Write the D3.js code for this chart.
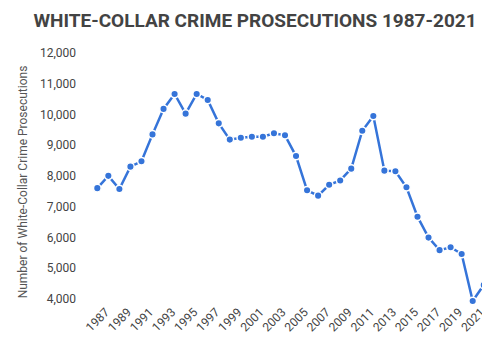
<!DOCTYPE html>
<html>
<head>
<meta charset="utf-8">
<script src="https://cdn.jsdelivr.net/npm/d3@7"></script>
<style>
  body { margin: 0; background: #fff; }
  svg { display: block; font-family: Roboto, "Noto Sans", sans-serif; }
</style>
</head>
<body>
<div id="chart"></div>
<script>
// data (the 2022 point is cut off at the right edge)
var years = [1987, 1988, 1989, 1990, 1991, 1992, 1993, 1994, 1995, 1996, 1997, 1998, 1999, 2000,
             2001, 2002, 2003, 2004, 2005, 2006, 2007, 2008, 2009, 2010, 2011, 2012, 2013, 2014,
             2015, 2016, 2017, 2018, 2019, 2020, 2021, 2022];
var prosecutions = [7600, 8000, 7570, 8300, 8475, 9350, 10180, 10665, 10025, 10665, 10470, 9710, 9180, 9240,
                    9275, 9275, 9385, 9320, 8645, 7530, 7355, 7710, 7850, 8235, 9470, 9950, 8170, 8150,
                    7630, 6670, 5990, 5580, 5675, 5455, 3925, 4445];
var yTicks = [4000, 5000, 6000, 7000, 8000, 9000, 10000, 11000, 12000];
var xTicks = [1987, 1989, 1991, 1993, 1995, 1997, 1999, 2001, 2003, 2005, 2007, 2009, 2011, 2013,
              2015, 2017, 2019, 2021];

var w = 482;
var h = 343;

var dataset = years.map(function(y, i) { return { year: y, value: prosecutions[i] }; });

//scales
var xScale = d3.scaleLinear()
  .domain([1987, 2021])
  .range([97.3, 472.7]);

var yScale = d3.scaleLinear()
  .domain([4000, 12000])
  .range([298.7, 53]);

var svg = d3.select("#chart")
  .append("svg")
  .attr("width", w)
  .attr("height", h);

//title
svg.append("text")
  .attr("x", 255)
  .attr("y", 27)
  .attr("text-anchor", "middle")
  .attr("font-size", "19px")
  .attr("font-weight", "bold")
  .attr("fill", "#434343")
  .text("WHITE-COLLAR CRIME PROSECUTIONS 1987-2021");

//y axis
var yAxis = d3.axisLeft(yScale)
  .tickValues(yTicks)
  .tickSize(0)
  .tickPadding(0)
  .tickFormat(d3.format(","));

var gy = svg.append("g")
  .attr("transform", "translate(76,0)")
  .call(yAxis);
gy.select(".domain").remove();
gy.selectAll("text")
  .attr("font-family", "Roboto, sans-serif")
  .attr("font-size", "12px")
  .attr("fill", "#444");

//x axis
var xAxis = d3.axisBottom(xScale)
  .tickValues(xTicks)
  .tickSize(0)
  .tickFormat(d3.format("d"));

var gx = svg.append("g")
  .attr("transform", "translate(0,308)")
  .call(xAxis);
gx.select(".domain").remove();
gx.selectAll("text")
  .attr("font-family", "Roboto, sans-serif")
  .attr("font-size", "12px")
  .attr("fill", "#444")
  .attr("x", 5)
  .attr("y", 8)
  .attr("dy", "0.35em")
  .attr("transform", "rotate(-45)")
  .style("text-anchor", "end");

// y axis title
svg.append("text")
  .attr("transform", "translate(27,182) rotate(-90)")
  .attr("text-anchor", "middle")
  .attr("font-size", "12px")
  .attr("fill", "#555")
  .text("Number of White-Collar Crime Prosecutions");

//line
var line = d3.line()
  .x(function(d) { return xScale(d.year); })
  .y(function(d) { return yScale(d.value); });

svg.append("path")
  .datum(dataset)
  .attr("fill", "none")
  .attr("stroke", "#3574d9")
  .attr("stroke-width", 2.5)
  .attr("d", line);

//dots
svg.selectAll(".dot")
  .data(dataset)
  .enter()
  .append("circle")
  .attr("class", "dot")
  .attr("cx", function(d) { return xScale(d.year); })
  .attr("cy", function(d) { return yScale(d.value); })
  .attr("r", 3.8)
  .attr("fill", "#3574d9")
  .attr("stroke", "#fff")
  .attr("stroke-width", 1.5);
</script>
</body>
</html>
